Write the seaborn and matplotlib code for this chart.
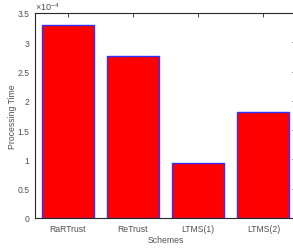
import matplotlib
matplotlib.use("Agg")
import matplotlib.pyplot as plt
import seaborn as sns
import pandas as pd
from matplotlib.ticker import FuncFormatter

categories = ["RaRTrust", "ReTrust", "LTMS(1)", "LTMS(2)"]
values = [3.30e-4, 2.77e-4, 0.94e-4, 1.81e-4]
yticks = [0, 0.5e-4, 1e-4, 1.5e-4, 2e-4, 2.5e-4, 3e-4, 3.5e-4]

sns.set_style("white")
plt.rcParams['font.family'] = ['Liberation Sans', 'DejaVu Sans']
plt.rcParams['mathtext.fontset'] = 'custom'
plt.rcParams['mathtext.rm'] = 'Liberation Sans'
plt.rcParams['mathtext.it'] = 'Liberation Sans:italic'

fig = plt.figure(figsize=(2.93, 2.51), dpi=100)
ax = fig.add_axes([35/293, 32/251, 261/293, 205/251])

df = pd.DataFrame({"Schemes": categories, "Time": values})
sns.barplot(data=df, x="Schemes", y="Time", color="red", saturation=1,
            edgecolor="#3030ff", linewidth=1.0, width=0.8, ax=ax)

ax.set_xlim(-0.5, 3.5)
ax.set_ylim(0, 3.5e-4)
ax.set_yticks(yticks)
ax.yaxis.set_major_formatter(FuncFormatter(lambda v, p: f"{v*1e4:g}"))
ax.text(0.0, 1.003, r"$\times10^{-4}$", transform=ax.transAxes,
        fontsize=6.5, color="#505050", ha="left", va="bottom")

dark = "#262626"
ax.tick_params(direction="in", length=3, width=0.6, colors=dark,
               labelsize=6.2, top=True, right=True, labelcolor="#505050", pad=4)
for s in ax.spines.values():
    s.set_color(dark)
    s.set_linewidth(0.8)

ax.set_xlabel("Schemes", fontsize=6.2, color="#505050", labelpad=2)
ax.set_ylabel("Processing Time", fontsize=6.2, color="#505050")
ax.yaxis.set_label_coords(-0.069, 0.5)

fig.savefig("out.png", dpi=100)
